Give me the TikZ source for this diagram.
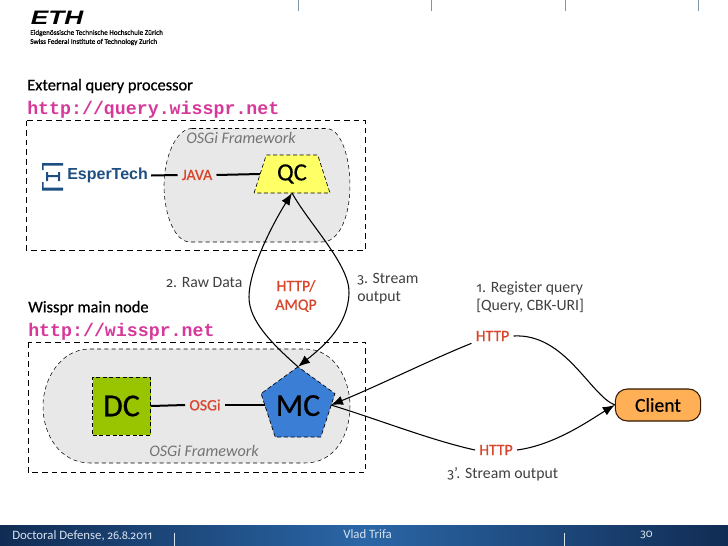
\documentclass[tikz,border=0pt]{standalone}
\usepackage{fontspec}
\setmainfont{Carlito}
\setmonofont{Liberation Mono}
\newfontfamily\medfont[FakeBold=0.6]{Carlito}
\newfontfamily\arialfont{Liberation Sans}
\newfontfamily\oldnum[Numbers=OldStyle,Scale=0.88]{Fira Sans}
\newcommand{\onum}[1]{{\oldnum #1}}
\usetikzlibrary{shapes.geometric,arrows.meta,shadings}
\definecolor{lblred}{HTML}{D9452B}
\definecolor{urlpink}{HTML}{D6399A}
\definecolor{blobgray}{HTML}{E8E8E8}
\definecolor{qcyellow}{HTML}{FFFF66}
\definecolor{dcgreen}{HTML}{99C400}
\definecolor{mcblue}{HTML}{3A7FD5}
\definecolor{clientor}{HTML}{FFB056}
\definecolor{espblue}{HTML}{1F4E82}
\definecolor{footdark}{HTML}{112C54}
\definecolor{footmid}{HTML}{2A66A6}
\definecolor{footlight}{HTML}{D8E2EE}
\definecolor{tickcol}{HTML}{7F97AD}
\tikzset{
  heading/.style={anchor=west,inner sep=0pt,font=\medfont\fontsize{12.3}{13}\selectfont},
  urltext/.style={anchor=west,inner sep=0pt,text=urlpink,font=\ttfamily\bfseries\fontsize{13.7}{14}\selectfont},
  proto/.style={text=lblred,inner sep=3pt,font=\medfont\fontsize{11.8}{14}\selectfont,align=center},
  note/.style={text=black!75,inner sep=0pt,font=\fontsize{11.8}{13.5}\selectfont,align=left},
  fw/.style={text=black!55,inner sep=0pt,font=\itshape\fontsize{12.1}{13}\selectfont},
  hostbox/.style={draw,line width=0.6pt,dash pattern=on 4.2pt off 3pt},
  blob/.style={draw,fill=blobgray,line width=0.4pt,dash pattern=on 3pt off 2.4pt},
  comp/.style={draw=black,line width=0.5pt,dash pattern=on 3pt off 2pt,inner sep=0pt,font=\medfont\fontsize{24}{25}\selectfont},
  link/.style={line width=1.5pt},
  flow/.style={line width=0.8pt,-{Latex[length=9pt,width=7pt]}},
  plain/.style={line width=0.8pt},
  foot/.style={text=footlight,inner sep=0pt,font=\fontsize{9.6}{10}\selectfont},
  ftick/.style={draw=footlight,line width=0.5pt},
  ttick/.style={draw=tickcol,line width=0.6pt}
}
\begin{document}
\begin{tikzpicture}[x=0.75pt,y=-0.75pt]
\useasboundingbox (0,0) rectangle (728,546);
\fill[white] (0,0) rectangle (728,546);
% top ticks
\foreach \tx in {298,431,565,698} \draw[ttick] (\tx,0) -- (\tx,11);
% ETH logo
\node[anchor=west,inner sep=0pt,xscale=1.35,font=\arialfont\bfseries\itshape\fontsize{14.6}{15}\selectfont] (ethlogo) at (30.5,18) {ETH};
\node[anchor=west,inner sep=0pt,font=\medfont\fontsize{5.4}{6}\selectfont] (ethde) at (30,33) {Eidgenössische Technische Hochschule Zürich};
\node[anchor=west,inner sep=0pt,font=\medfont\fontsize{5.4}{6}\selectfont] (ethen) at (30,42) {Swiss Federal Institute of Technology Zurich};
% headings
\node[heading] (h1) at (27,86) {External query processor};
\node[urltext] (u1) at (27,109.5) {http://query.wisspr.net};
\node[heading] (h2) at (28,308) {Wisspr main node};
\node[urltext] (u2) at (28,331.5) {http://wisspr.net};
% host boxes
\draw[hostbox] (26,120.5) rectangle (365.5,250);
\draw[hostbox] (28,342) rectangle (365.5,472);
% blobs
\draw[blob] (192,128.5) -- (326,128.5) .. controls (342,128.5) and (350,160) .. (350,185) .. controls (350,215) and (340,242) .. (322,242) -- (190,242) .. controls (175,242) and (164,215) .. (164,185) .. controls (164,160) and (175,128.5) .. (192,128.5) -- cycle;
\draw[blob] (90,349) -- (305,349) .. controls (335,349) and (350,380) .. (350,406) .. controls (350,435) and (335,463) .. (305,463) -- (90,463) .. controls (60,463) and (43,435) .. (43,406) .. controls (43,380) and (60,349) .. (90,349) -- cycle;
\node[fw] (fw1) at (241,138) {OSGi Framework};
\node[fw] (fw2) at (204,451) {OSGi Framework};
% EsperTech
\node[anchor=west,inner sep=0pt,text=espblue,font=\arialfont\bfseries\fontsize{12}{13}\selectfont] (esper) at (67,175.5) {EsperTech};
\fill[espblue] (42,163) rectangle (63,165.5) (42,187.5) rectangle (63,190.5) (42,163) rectangle (43.5,170) (42,182) rectangle (43.5,190);
\fill[espblue] (46,175) rectangle (60,177) (46,172) rectangle (48,181) (58,172) rectangle (60,181);
% components
\node[comp,trapezium,trapezium angle=70,trapezium stretches=true,minimum width=57pt,minimum height=28.5pt,fill=qcyellow,font=\medfont\fontsize{18.5}{20}\selectfont] (QC) at (292,174) {QC};
\node[comp,fill=dcgreen,minimum size=43.5pt] (DC) at (121.5,406) {DC};
\node[comp,regular polygon,regular polygon sides=5,minimum size=56.4pt,fill=mcblue,outer sep=0pt] (MC) at (298,405.6) {MC};
\node[draw=black!80!orange,line width=0.8pt,fill=clientor,rounded corners=9pt,minimum width=64pt,minimum height=24pt,inner sep=0pt,font=\medfont\fontsize{14.7}{16}\selectfont] (client) at (658,405) {Client};
% protocol labels
\node[proto] (java) at (197,175) {JAVA};
\node[proto] (osgi) at (205,405) {OSGi};
\node[proto] (amqp) at (296,296) {HTTP/\\AMQP};
\node[proto] (http1) at (492.5,336) {HTTP};
\node[proto] (http2) at (496,450) {HTTP};
% notes
\node[note,anchor=west] (n2) at (166,283) {\onum{2}. Raw Data};
\node[note,anchor=west] (n3) at (357,289) {\onum{3}. Stream\\output};
\node[note,anchor=west] (n1) at (476,297) {\onum{1}. Register query\\{}[Query, CBK-URI]};
\node[note,anchor=west] (n3p) at (447,474) {\onum{3}'. Stream output};
% thick links
\draw[link] (esper.east) ++(3,0) coordinate (espend) -- (java.west);
\draw[link] (java.east) -- (QC.west);
\draw[link] (DC.east) -- (osgi.west);
\draw[link] (osgi.east) -- (MC.west |- osgi.east);
% raw data / stream
\coordinate (qcb) at (292,193);
\coordinate (mct) at (MC.corner 1);
\coordinate (mcin) at (331,405);
\draw[flow] (mct) .. controls (270,342) and (249,320) .. (249,297) .. controls (249,270) and (272,225) .. (qcb);
\draw[flow] (qcb) .. controls (310,225) and (350,265) .. (349,293) .. controls (348,325) and (325,345) .. (mct);
% client links
\draw[flow] (http1.south west) ++(0,-2) coordinate (h1l) .. controls (430,360) and (380,385) .. (mcin);
\draw[plain] (client.west) .. controls (590,395) and (565,333) .. (http1.east);
\draw[plain] (mcin) .. controls (380,420) and (430,440) .. (http2.west);
\draw[flow] (http2.east) .. controls (555,445) and (590,420) .. (client.west);
% footer
\fill[left color=footdark,right color=footdark,middle color=footmid] (0,525) rectangle (728,546);
\node[foot,anchor=west] (fl) at (12,535.5) {Doctoral Defense, \onum{26.8.2011}};
\node[foot,anchor=west] (fm) at (343,534.5) {Vlad Trifa};
\node[foot,anchor=west] (fr) at (640,535) {\onum{30}};
\draw[ftick] (174,533) -- (174,546);
\draw[ftick] (564,533) -- (564,546);
\end{tikzpicture}
\end{document}
